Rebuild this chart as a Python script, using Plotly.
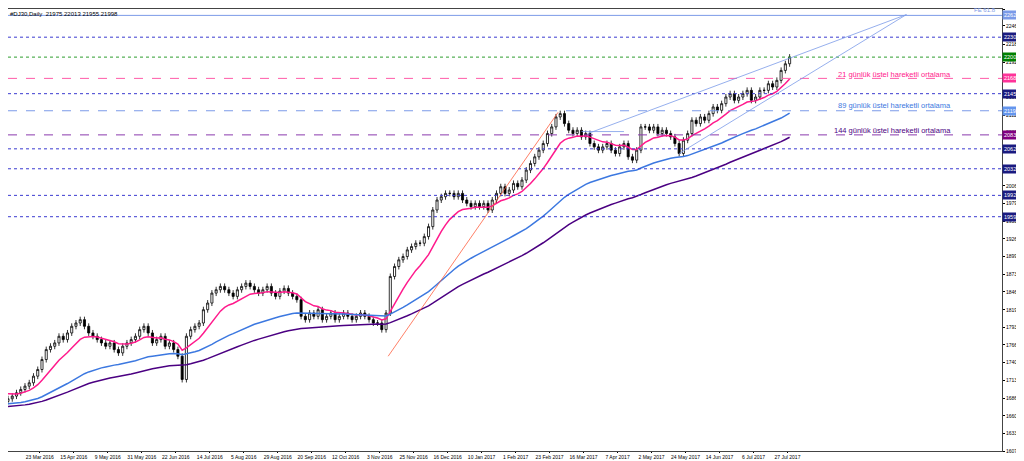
import plotly.graph_objects as go

closes = [16860,16900,16950,17000,17050,17100,17200,17300,17450,17600,
17650,17700,17800,17750,17850,17950,18000,18050,17950,17850,
17800,17750,17700,17650,17700,17600,17550,17650,17700,17750,
17800,17900,17950,17850,17700,17750,17800,17650,17700,17600,
17500,17150,17800,17900,17950,18000,18200,18300,18450,18500,
18550,18500,18450,18400,18500,18550,18600,18550,18500,18450,
18500,18550,18450,18400,18480,18520,18450,18400,18350,18100,
18050,18150,18100,18200,18050,18100,18150,18050,18100,18150,
18100,18050,18100,18150,18100,18050,18000,18000,17900,18150,
18700,18850,18950,19000,19100,19150,19200,19200,19300,19450,
19700,19850,19900,19950,19950,19900,19950,19850,19800,19750,
19800,19750,19800,19700,19850,19950,20050,19950,20000,20100,
20050,20150,20300,20400,20500,20600,20700,20850,20950,21100,
21150,21000,20900,20850,20900,20800,20850,20700,20650,20600,
20650,20700,20600,20550,20650,20700,20500,20450,20600,20950,
20950,20900,20950,20850,20900,20850,20800,20700,20550,20750,
20850,21050,21000,21100,21050,21150,21250,21200,21300,21400,
21450,21350,21400,21450,21500,21350,21400,21500,21500,21600,
21550,21650,21800,21900,22000]
first_open = 16820
ema_periods = [21, 89, 144]
ema_seeds = [16950, 16780, 16740]
ema_colors = ["#ff1a8c", "#3c78e0", "#4b0082"]

tick_vals = [22724,22469,22189,21924,21654,21394,21129,20864,20594,20329,20064,19799,19534,19264,18999,18734,18469,18199,17934,17669,17404,17139,16869,16604,16339,16074]
date_labels = ["1 Mar 2016","23 Mar 2016","15 Apr 2016","9 May 2016","31 May 2016","22 Jun 2016","14 Jul 2016","5 Aug 2016","29 Aug 2016","20 Sep 2016","12 Oct 2016","3 Nov 2016","25 Nov 2016","16 Dec 2016","10 Jan 2017","1 Feb 2017","23 Feb 2017","16 Mar 2017","7 Apr 2017","2 May 2017","24 May 2017","14 Jun 2017","6 Jul 2017","27 Jul 2017"]
date_pos = [-1 + 16*i for i in range(len(date_labels))]

levels = [22628,22300,22000,21680,21450,21193,20830,20620,20320,19920,19599]
level_colors = ["#7b9ae8","#3a3ad0","#2e9e2e","#ff5aa8","#3a3ad0","#7b9ae8","#8a3aae","#3a3ad0","#3a3ad0","#3a3ad0","#3a3ad0"]
level_dash = ["solid","dot","dot","dash","dot","dash","dash","dot","dot","dot","dot"]
label_bg = ["#7b9ae8","#1a1a80","#008000","#ff3399","#1a1a80","#6495ed","#800080","#1a1a80","#1a1a80","#1a1a80","#1a1a80"]

ema_texts = ["21 günlük üstel hareketli ortalama","89 günlük üstel hareketli ortalama","144 günlük üstel hareketli ortalama"]
ema_text_prices = [21740,21270,20900]

trend_lines = [(179,17500,259,21170,"#ff6040"),
               (273,20850,423,22640,"#7b9ae8"),
               (316,20550,423,22640,"#7b9ae8"),
               (270,20880,290,20880,"#7b9ae8")]

x = [2*i for i in range(len(closes))]
opens = [first_open] + closes[:-1]
highs = [max(o, c) + 45 for o, c in zip(opens, closes)]
lows = [min(o, c) - 45 for o, c in zip(opens, closes)]

FONT = "Liberation Sans"
fig = go.Figure()
fig.add_trace(go.Candlestick(x=x, open=opens, high=highs, low=lows, close=closes,
    increasing=dict(line=dict(color="black", width=0.8), fillcolor="white"),
    decreasing=dict(line=dict(color="black", width=0.8), fillcolor="black"),
    whiskerwidth=0, showlegend=False))

for per, seed, col in zip(ema_periods, ema_seeds, ema_colors):
    a = 2 / (per / 2 + 1)
    e = seed
    vals = []
    for c in closes:
        e = e + a * (c - e)
        vals.append(e)
    fig.add_trace(go.Scatter(x=x, y=vals, mode="lines", line=dict(color=col, width=1.5), showlegend=False))

for p, col, d, bg in zip(levels, level_colors, level_dash, label_bg):
    fig.add_hline(y=p, line=dict(color=col, dash=d, width=1))
    fig.add_annotation(xref="paper", x=1.0, y=p, text=str(p), showarrow=False, xanchor="left",
        font=dict(size=5.5, color="white", family=FONT), bgcolor=bg, borderpad=1)

for t, p, col in zip(ema_texts, ema_text_prices, ema_colors):
    fig.add_annotation(x=445, y=p, text=t, showarrow=False, xanchor="right",
        font=dict(size=7.5, color=col, family=FONT))

fig.add_annotation(x=466, y=22628, text="FE 61.8", showarrow=False, xanchor="right", yanchor="bottom",
    font=dict(size=6, color="#7b9ae8", family=FONT))

for d0, p0, d1, p1, col in trend_lines:
    fig.add_shape(type="line", x0=d0, y0=p0, x1=d1, y1=p1, line=dict(color=col, width=0.8))

fig.add_annotation(xref="paper", yref="paper", x=0.0, y=1.0, text="#DJ30,Daily  21975 22013 21955 21998",
    showarrow=False, xanchor="left", yanchor="top", font=dict(size=6, color="black", family=FONT))

fig.update_layout(width=1016, height=453, margin=dict(l=0, r=22, t=1, b=10, autoexpand=False),
    paper_bgcolor="white", plot_bgcolor="white",
    xaxis=dict(range=[0, 468], tickvals=date_pos, ticktext=date_labels, showgrid=False, automargin=False,
        rangeslider=dict(visible=False), ticks="outside", ticklen=1, tickcolor="black", tickangle=0,
        tickfont=dict(size=5, family=FONT, color="black"), linecolor="#444", mirror=True, showline=True),
    yaxis=dict(range=[16074, 22724], side="right", tickvals=tick_vals, tickformat="d", showgrid=False, automargin=False,
        ticks="outside", ticklen=2, tickcolor="black", tickangle=0,
        tickfont=dict(size=5, family=FONT, color="black"), linecolor="#444", mirror=True, showline=True))

fig.write_html("out.html")
